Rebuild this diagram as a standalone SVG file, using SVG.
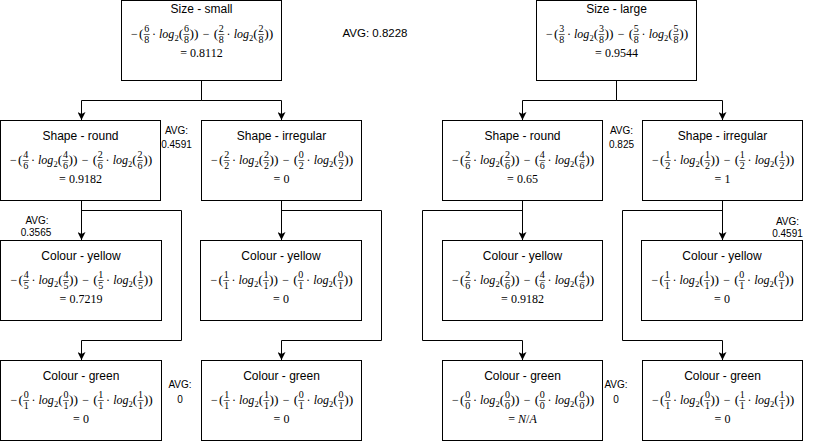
<svg xmlns="http://www.w3.org/2000/svg" width="813" height="442" viewBox="0 0 813 442">
<defs>
<style>
.bx{fill:#fff;stroke:#000;stroke-width:1}
.t{font-family:"Liberation Sans",Arial,sans-serif;font-size:12px;text-anchor:middle;fill:#000}
.m{font-family:"Liberation Serif","Times New Roman",serif;font-size:12px;text-anchor:middle;fill:#000}
.p{font-size:13.5px}
.f{font-family:"Liberation Serif","Times New Roman",serif;font-size:10px;text-anchor:middle;fill:#000}
.it{font-style:italic}
.sb{font-size:8.5px}
.bar{stroke:#000;stroke-width:0.6;fill:none}
.avg{font-family:"Liberation Sans",Arial,sans-serif;font-size:10px;text-anchor:middle;fill:#000}
.avgt{font-family:"Liberation Sans",Arial,sans-serif;font-size:11.5px;fill:#000}
.c{fill:none;stroke:#000;stroke-width:1}
</style>
<marker id="ah" viewBox="0 0 8 8" refX="8" refY="4" markerWidth="8" markerHeight="8" markerUnits="userSpaceOnUse" orient="auto">
<path d="M0,0 L8,4 L0,8 L2,4 Z" fill="#000"/>
</marker>
</defs>
<rect width="813" height="442" fill="#fff"/>

<g id="connectors">
<path class="c" marker-end="url(#ah)" d="M201.5,80 V100.5 H81.5 V120"/>
<path class="c" marker-end="url(#ah)" d="M201.5,80 V100.5 H281.5 V120"/>
<path class="c" marker-end="url(#ah)" d="M81.5,200 V240"/>
<path class="c" marker-end="url(#ah)" d="M81.5,200 V210.5 H181.5 V340.5 H81.5 V360"/>
<path class="c" marker-end="url(#ah)" d="M281.5,200 V240"/>
<path class="c" marker-end="url(#ah)" d="M281.5,200 V210.5 H381.5 V340.5 H281.5 V360"/>
<path class="c" marker-end="url(#ah)" d="M616.5,80 V100.5 H522.5 V120"/>
<path class="c" marker-end="url(#ah)" d="M616.5,80 V100.5 H722.5 V120"/>
<path class="c" marker-end="url(#ah)" d="M522.5,200 V240"/>
<path class="c" marker-end="url(#ah)" d="M522.5,200 V210.5 H422.5 V340.5 H522.5 V360"/>
<path class="c" marker-end="url(#ah)" d="M722.5,200 V240"/>
<path class="c" marker-end="url(#ah)" d="M722.5,200 V210.5 H622.5 V340.5 H722.5 V360"/>
</g>

<g id="size-small">
<rect class="bx" x="121.5" y="0.5" width="160" height="80"/>
<text class="t" x="201.5" y="12.5">Size - small</text>
<g transform="translate(129.5,34.5)">
<text class="m"><tspan x="4.8" y="3">−</tspan><tspan class="p" x="11.7" y="3.5">(</tspan><tspan x="24.5" y="3">·</tspan><tspan class="it" x="37.2" y="3">log</tspan><tspan class="sb" x="47" y="6">2</tspan><tspan class="p" x="51.4" y="3.5">(</tspan><tspan class="p" x="64.5" y="3.5">))</tspan><tspan x="76.7" y="3">−</tspan><tspan class="p" x="86.4" y="3.5">(</tspan><tspan x="99.1" y="3">·</tspan><tspan class="it" x="111.9" y="3">log</tspan><tspan class="sb" x="121.7" y="6">2</tspan><tspan class="p" x="126.1" y="3.5">(</tspan><tspan class="p" x="139.2" y="3.5">))</tspan></text>
<text class="f"><tspan x="17.2" y="-2.2">6</tspan><tspan x="17.2" y="8.3">8</tspan><tspan x="56.9" y="-2.2">6</tspan><tspan x="56.9" y="8.3">8</tspan><tspan x="91.8" y="-2.2">2</tspan><tspan x="91.8" y="8.3">8</tspan><tspan x="131.6" y="-2.2">2</tspan><tspan x="131.6" y="8.3">8</tspan></text>
<path class="bar" d="M14.2,0H20.2M53.9,0H59.9M88.8,0H94.8M128.6,0H134.6"/>
</g>
<text class="m" x="201.5" y="56.5">= 0.8112</text>
</g>

<g id="size-large">
<rect class="bx" x="536.5" y="0.5" width="160" height="80"/>
<text class="t" x="616.5" y="12.5">Size - large</text>
<g transform="translate(544.5,34.5)">
<text class="m"><tspan x="4.8" y="3">−</tspan><tspan class="p" x="11.7" y="3.5">(</tspan><tspan x="24.5" y="3">·</tspan><tspan class="it" x="37.2" y="3">log</tspan><tspan class="sb" x="47" y="6">2</tspan><tspan class="p" x="51.4" y="3.5">(</tspan><tspan class="p" x="64.5" y="3.5">))</tspan><tspan x="76.7" y="3">−</tspan><tspan class="p" x="86.4" y="3.5">(</tspan><tspan x="99.1" y="3">·</tspan><tspan class="it" x="111.9" y="3">log</tspan><tspan class="sb" x="121.7" y="6">2</tspan><tspan class="p" x="126.1" y="3.5">(</tspan><tspan class="p" x="139.2" y="3.5">))</tspan></text>
<text class="f"><tspan x="17.2" y="-2.2">3</tspan><tspan x="17.2" y="8.3">8</tspan><tspan x="56.9" y="-2.2">3</tspan><tspan x="56.9" y="8.3">8</tspan><tspan x="91.8" y="-2.2">5</tspan><tspan x="91.8" y="8.3">8</tspan><tspan x="131.6" y="-2.2">5</tspan><tspan x="131.6" y="8.3">8</tspan></text>
<path class="bar" d="M14.2,0H20.2M53.9,0H59.9M88.8,0H94.8M128.6,0H134.6"/>
</g>
<text class="m" x="616.5" y="56.5">= 0.9544</text>
</g>

<g id="shape-round-left">
<rect class="bx" x="0.5" y="120.5" width="160" height="80"/>
<text class="t" x="80.5" y="139.5">Shape - round</text>
<g transform="translate(8.5,160.5)">
<text class="m"><tspan x="4.8" y="3">−</tspan><tspan class="p" x="11.7" y="3.5">(</tspan><tspan x="24.5" y="3">·</tspan><tspan class="it" x="37.2" y="3">log</tspan><tspan class="sb" x="47" y="6">2</tspan><tspan class="p" x="51.4" y="3.5">(</tspan><tspan class="p" x="64.5" y="3.5">))</tspan><tspan x="76.7" y="3">−</tspan><tspan class="p" x="86.4" y="3.5">(</tspan><tspan x="99.1" y="3">·</tspan><tspan class="it" x="111.9" y="3">log</tspan><tspan class="sb" x="121.7" y="6">2</tspan><tspan class="p" x="126.1" y="3.5">(</tspan><tspan class="p" x="139.2" y="3.5">))</tspan></text>
<text class="f"><tspan x="17.2" y="-2.2">4</tspan><tspan x="17.2" y="8.3">6</tspan><tspan x="56.9" y="-2.2">4</tspan><tspan x="56.9" y="8.3">6</tspan><tspan x="91.8" y="-2.2">2</tspan><tspan x="91.8" y="8.3">6</tspan><tspan x="131.6" y="-2.2">2</tspan><tspan x="131.6" y="8.3">6</tspan></text>
<path class="bar" d="M14.2,0H20.2M53.9,0H59.9M88.8,0H94.8M128.6,0H134.6"/>
</g>
<text class="m" x="80.5" y="183">= 0.9182</text>
</g>

<g id="shape-irregular-left">
<rect class="bx" x="201.5" y="120.5" width="160" height="80"/>
<text class="t" x="281.5" y="139.5">Shape - irregular</text>
<g transform="translate(209.5,160.5)">
<text class="m"><tspan x="4.8" y="3">−</tspan><tspan class="p" x="11.7" y="3.5">(</tspan><tspan x="24.5" y="3">·</tspan><tspan class="it" x="37.2" y="3">log</tspan><tspan class="sb" x="47" y="6">2</tspan><tspan class="p" x="51.4" y="3.5">(</tspan><tspan class="p" x="64.5" y="3.5">))</tspan><tspan x="76.7" y="3">−</tspan><tspan class="p" x="86.4" y="3.5">(</tspan><tspan x="99.1" y="3">·</tspan><tspan class="it" x="111.9" y="3">log</tspan><tspan class="sb" x="121.7" y="6">2</tspan><tspan class="p" x="126.1" y="3.5">(</tspan><tspan class="p" x="139.2" y="3.5">))</tspan></text>
<text class="f"><tspan x="17.2" y="-2.2">2</tspan><tspan x="17.2" y="8.3">2</tspan><tspan x="56.9" y="-2.2">2</tspan><tspan x="56.9" y="8.3">2</tspan><tspan x="91.8" y="-2.2">0</tspan><tspan x="91.8" y="8.3">2</tspan><tspan x="131.6" y="-2.2">0</tspan><tspan x="131.6" y="8.3">2</tspan></text>
<path class="bar" d="M14.2,0H20.2M53.9,0H59.9M88.8,0H94.8M128.6,0H134.6"/>
</g>
<text class="m" x="281.5" y="183">= 0</text>
</g>

<g id="colour-yellow-left">
<rect class="bx" x="0.5" y="240.5" width="161" height="80"/>
<text class="t" x="81" y="259.5">Colour - yellow</text>
<g transform="translate(9,280.5)">
<text class="m"><tspan x="4.8" y="3">−</tspan><tspan class="p" x="11.7" y="3.5">(</tspan><tspan x="24.5" y="3">·</tspan><tspan class="it" x="37.2" y="3">log</tspan><tspan class="sb" x="47" y="6">2</tspan><tspan class="p" x="51.4" y="3.5">(</tspan><tspan class="p" x="64.5" y="3.5">))</tspan><tspan x="76.7" y="3">−</tspan><tspan class="p" x="86.4" y="3.5">(</tspan><tspan x="99.1" y="3">·</tspan><tspan class="it" x="111.9" y="3">log</tspan><tspan class="sb" x="121.7" y="6">2</tspan><tspan class="p" x="126.1" y="3.5">(</tspan><tspan class="p" x="139.2" y="3.5">))</tspan></text>
<text class="f"><tspan x="17.2" y="-2.2">4</tspan><tspan x="17.2" y="8.3">5</tspan><tspan x="56.9" y="-2.2">4</tspan><tspan x="56.9" y="8.3">5</tspan><tspan x="91.8" y="-2.2">1</tspan><tspan x="91.8" y="8.3">5</tspan><tspan x="131.6" y="-2.2">1</tspan><tspan x="131.6" y="8.3">5</tspan></text>
<path class="bar" d="M14.2,0H20.2M53.9,0H59.9M88.8,0H94.8M128.6,0H134.6"/>
</g>
<text class="m" x="81" y="303">= 0.7219</text>
</g>

<g id="colour-yellow-left-2">
<rect class="bx" x="200.5" y="240.5" width="161" height="80"/>
<text class="t" x="281" y="259.5">Colour - yellow</text>
<g transform="translate(209,280.5)">
<text class="m"><tspan x="4.8" y="3">−</tspan><tspan class="p" x="11.7" y="3.5">(</tspan><tspan x="24.5" y="3">·</tspan><tspan class="it" x="37.2" y="3">log</tspan><tspan class="sb" x="47" y="6">2</tspan><tspan class="p" x="51.4" y="3.5">(</tspan><tspan class="p" x="64.5" y="3.5">))</tspan><tspan x="76.7" y="3">−</tspan><tspan class="p" x="86.4" y="3.5">(</tspan><tspan x="99.1" y="3">·</tspan><tspan class="it" x="111.9" y="3">log</tspan><tspan class="sb" x="121.7" y="6">2</tspan><tspan class="p" x="126.1" y="3.5">(</tspan><tspan class="p" x="139.2" y="3.5">))</tspan></text>
<text class="f"><tspan x="17.2" y="-2.2">1</tspan><tspan x="17.2" y="8.3">1</tspan><tspan x="56.9" y="-2.2">1</tspan><tspan x="56.9" y="8.3">1</tspan><tspan x="91.8" y="-2.2">0</tspan><tspan x="91.8" y="8.3">1</tspan><tspan x="131.6" y="-2.2">0</tspan><tspan x="131.6" y="8.3">1</tspan></text>
<path class="bar" d="M14.2,0H20.2M53.9,0H59.9M88.8,0H94.8M128.6,0H134.6"/>
</g>
<text class="m" x="281" y="303">= 0</text>
</g>

<g id="colour-green-left">
<rect class="bx" x="0.5" y="360.5" width="161" height="80"/>
<text class="t" x="81" y="379.5">Colour - green</text>
<g transform="translate(9,400.5)">
<text class="m"><tspan x="4.8" y="3">−</tspan><tspan class="p" x="11.7" y="3.5">(</tspan><tspan x="24.5" y="3">·</tspan><tspan class="it" x="37.2" y="3">log</tspan><tspan class="sb" x="47" y="6">2</tspan><tspan class="p" x="51.4" y="3.5">(</tspan><tspan class="p" x="64.5" y="3.5">))</tspan><tspan x="76.7" y="3">−</tspan><tspan class="p" x="86.4" y="3.5">(</tspan><tspan x="99.1" y="3">·</tspan><tspan class="it" x="111.9" y="3">log</tspan><tspan class="sb" x="121.7" y="6">2</tspan><tspan class="p" x="126.1" y="3.5">(</tspan><tspan class="p" x="139.2" y="3.5">))</tspan></text>
<text class="f"><tspan x="17.2" y="-2.2">0</tspan><tspan x="17.2" y="8.3">1</tspan><tspan x="56.9" y="-2.2">0</tspan><tspan x="56.9" y="8.3">1</tspan><tspan x="91.8" y="-2.2">1</tspan><tspan x="91.8" y="8.3">1</tspan><tspan x="131.6" y="-2.2">1</tspan><tspan x="131.6" y="8.3">1</tspan></text>
<path class="bar" d="M14.2,0H20.2M53.9,0H59.9M88.8,0H94.8M128.6,0H134.6"/>
</g>
<text class="m" x="81" y="423">= 0</text>
</g>

<g id="colour-green-left-2">
<rect class="bx" x="201.5" y="360.5" width="160" height="80"/>
<text class="t" x="281.5" y="379.5">Colour - green</text>
<g transform="translate(209.5,400.5)">
<text class="m"><tspan x="4.8" y="3">−</tspan><tspan class="p" x="11.7" y="3.5">(</tspan><tspan x="24.5" y="3">·</tspan><tspan class="it" x="37.2" y="3">log</tspan><tspan class="sb" x="47" y="6">2</tspan><tspan class="p" x="51.4" y="3.5">(</tspan><tspan class="p" x="64.5" y="3.5">))</tspan><tspan x="76.7" y="3">−</tspan><tspan class="p" x="86.4" y="3.5">(</tspan><tspan x="99.1" y="3">·</tspan><tspan class="it" x="111.9" y="3">log</tspan><tspan class="sb" x="121.7" y="6">2</tspan><tspan class="p" x="126.1" y="3.5">(</tspan><tspan class="p" x="139.2" y="3.5">))</tspan></text>
<text class="f"><tspan x="17.2" y="-2.2">1</tspan><tspan x="17.2" y="8.3">1</tspan><tspan x="56.9" y="-2.2">1</tspan><tspan x="56.9" y="8.3">1</tspan><tspan x="91.8" y="-2.2">0</tspan><tspan x="91.8" y="8.3">1</tspan><tspan x="131.6" y="-2.2">0</tspan><tspan x="131.6" y="8.3">1</tspan></text>
<path class="bar" d="M14.2,0H20.2M53.9,0H59.9M88.8,0H94.8M128.6,0H134.6"/>
</g>
<text class="m" x="281.5" y="423">= 0</text>
</g>

<g id="shape-round-right">
<rect class="bx" x="442.5" y="120.5" width="160" height="80"/>
<text class="t" x="522.5" y="139.5">Shape - round</text>
<g transform="translate(450.5,160.5)">
<text class="m"><tspan x="4.8" y="3">−</tspan><tspan class="p" x="11.7" y="3.5">(</tspan><tspan x="24.5" y="3">·</tspan><tspan class="it" x="37.2" y="3">log</tspan><tspan class="sb" x="47" y="6">2</tspan><tspan class="p" x="51.4" y="3.5">(</tspan><tspan class="p" x="64.5" y="3.5">))</tspan><tspan x="76.7" y="3">−</tspan><tspan class="p" x="86.4" y="3.5">(</tspan><tspan x="99.1" y="3">·</tspan><tspan class="it" x="111.9" y="3">log</tspan><tspan class="sb" x="121.7" y="6">2</tspan><tspan class="p" x="126.1" y="3.5">(</tspan><tspan class="p" x="139.2" y="3.5">))</tspan></text>
<text class="f"><tspan x="17.2" y="-2.2">2</tspan><tspan x="17.2" y="8.3">6</tspan><tspan x="56.9" y="-2.2">2</tspan><tspan x="56.9" y="8.3">6</tspan><tspan x="91.8" y="-2.2">4</tspan><tspan x="91.8" y="8.3">6</tspan><tspan x="131.6" y="-2.2">4</tspan><tspan x="131.6" y="8.3">6</tspan></text>
<path class="bar" d="M14.2,0H20.2M53.9,0H59.9M88.8,0H94.8M128.6,0H134.6"/>
</g>
<text class="m" x="522.5" y="183">= 0.65</text>
</g>

<g id="shape-irregular-right">
<rect class="bx" x="642.5" y="120.5" width="160" height="80"/>
<text class="t" x="722.5" y="139.5">Shape - irregular</text>
<g transform="translate(650.5,160.5)">
<text class="m"><tspan x="4.8" y="3">−</tspan><tspan class="p" x="11.7" y="3.5">(</tspan><tspan x="24.5" y="3">·</tspan><tspan class="it" x="37.2" y="3">log</tspan><tspan class="sb" x="47" y="6">2</tspan><tspan class="p" x="51.4" y="3.5">(</tspan><tspan class="p" x="64.5" y="3.5">))</tspan><tspan x="76.7" y="3">−</tspan><tspan class="p" x="86.4" y="3.5">(</tspan><tspan x="99.1" y="3">·</tspan><tspan class="it" x="111.9" y="3">log</tspan><tspan class="sb" x="121.7" y="6">2</tspan><tspan class="p" x="126.1" y="3.5">(</tspan><tspan class="p" x="139.2" y="3.5">))</tspan></text>
<text class="f"><tspan x="17.2" y="-2.2">1</tspan><tspan x="17.2" y="8.3">2</tspan><tspan x="56.9" y="-2.2">1</tspan><tspan x="56.9" y="8.3">2</tspan><tspan x="91.8" y="-2.2">1</tspan><tspan x="91.8" y="8.3">2</tspan><tspan x="131.6" y="-2.2">1</tspan><tspan x="131.6" y="8.3">2</tspan></text>
<path class="bar" d="M14.2,0H20.2M53.9,0H59.9M88.8,0H94.8M128.6,0H134.6"/>
</g>
<text class="m" x="722.5" y="183">= 1</text>
</g>

<g id="colour-yellow-right">
<rect class="bx" x="442.5" y="240.5" width="160" height="80"/>
<text class="t" x="522.5" y="259.5">Colour - yellow</text>
<g transform="translate(450.5,280.5)">
<text class="m"><tspan x="4.8" y="3">−</tspan><tspan class="p" x="11.7" y="3.5">(</tspan><tspan x="24.5" y="3">·</tspan><tspan class="it" x="37.2" y="3">log</tspan><tspan class="sb" x="47" y="6">2</tspan><tspan class="p" x="51.4" y="3.5">(</tspan><tspan class="p" x="64.5" y="3.5">))</tspan><tspan x="76.7" y="3">−</tspan><tspan class="p" x="86.4" y="3.5">(</tspan><tspan x="99.1" y="3">·</tspan><tspan class="it" x="111.9" y="3">log</tspan><tspan class="sb" x="121.7" y="6">2</tspan><tspan class="p" x="126.1" y="3.5">(</tspan><tspan class="p" x="139.2" y="3.5">))</tspan></text>
<text class="f"><tspan x="17.2" y="-2.2">2</tspan><tspan x="17.2" y="8.3">6</tspan><tspan x="56.9" y="-2.2">2</tspan><tspan x="56.9" y="8.3">6</tspan><tspan x="91.8" y="-2.2">4</tspan><tspan x="91.8" y="8.3">6</tspan><tspan x="131.6" y="-2.2">4</tspan><tspan x="131.6" y="8.3">6</tspan></text>
<path class="bar" d="M14.2,0H20.2M53.9,0H59.9M88.8,0H94.8M128.6,0H134.6"/>
</g>
<text class="m" x="522.5" y="303">= 0.9182</text>
</g>

<g id="colour-yellow-right-2">
<rect class="bx" x="641.5" y="240.5" width="161" height="80"/>
<text class="t" x="722" y="259.5">Colour - yellow</text>
<g transform="translate(650,280.5)">
<text class="m"><tspan x="4.8" y="3">−</tspan><tspan class="p" x="11.7" y="3.5">(</tspan><tspan x="24.5" y="3">·</tspan><tspan class="it" x="37.2" y="3">log</tspan><tspan class="sb" x="47" y="6">2</tspan><tspan class="p" x="51.4" y="3.5">(</tspan><tspan class="p" x="64.5" y="3.5">))</tspan><tspan x="76.7" y="3">−</tspan><tspan class="p" x="86.4" y="3.5">(</tspan><tspan x="99.1" y="3">·</tspan><tspan class="it" x="111.9" y="3">log</tspan><tspan class="sb" x="121.7" y="6">2</tspan><tspan class="p" x="126.1" y="3.5">(</tspan><tspan class="p" x="139.2" y="3.5">))</tspan></text>
<text class="f"><tspan x="17.2" y="-2.2">1</tspan><tspan x="17.2" y="8.3">1</tspan><tspan x="56.9" y="-2.2">1</tspan><tspan x="56.9" y="8.3">1</tspan><tspan x="91.8" y="-2.2">0</tspan><tspan x="91.8" y="8.3">1</tspan><tspan x="131.6" y="-2.2">0</tspan><tspan x="131.6" y="8.3">1</tspan></text>
<path class="bar" d="M14.2,0H20.2M53.9,0H59.9M88.8,0H94.8M128.6,0H134.6"/>
</g>
<text class="m" x="722" y="303">= 0</text>
</g>

<g id="colour-green-right">
<rect class="bx" x="442.5" y="360.5" width="160" height="80"/>
<text class="t" x="522.5" y="379.5">Colour - green</text>
<g transform="translate(450.5,400.5)">
<text class="m"><tspan x="4.8" y="3">−</tspan><tspan class="p" x="11.7" y="3.5">(</tspan><tspan x="24.5" y="3">·</tspan><tspan class="it" x="37.2" y="3">log</tspan><tspan class="sb" x="47" y="6">2</tspan><tspan class="p" x="51.4" y="3.5">(</tspan><tspan class="p" x="64.5" y="3.5">))</tspan><tspan x="76.7" y="3">−</tspan><tspan class="p" x="86.4" y="3.5">(</tspan><tspan x="99.1" y="3">·</tspan><tspan class="it" x="111.9" y="3">log</tspan><tspan class="sb" x="121.7" y="6">2</tspan><tspan class="p" x="126.1" y="3.5">(</tspan><tspan class="p" x="139.2" y="3.5">))</tspan></text>
<text class="f"><tspan x="17.2" y="-2.2">0</tspan><tspan x="17.2" y="8.3">0</tspan><tspan x="56.9" y="-2.2">0</tspan><tspan x="56.9" y="8.3">0</tspan><tspan x="91.8" y="-2.2">0</tspan><tspan x="91.8" y="8.3">0</tspan><tspan x="131.6" y="-2.2">0</tspan><tspan x="131.6" y="8.3">0</tspan></text>
<path class="bar" d="M14.2,0H20.2M53.9,0H59.9M88.8,0H94.8M128.6,0H134.6"/>
</g>
<text class="m" x="522.5" y="423">= <tspan class="it">N</tspan>/<tspan class="it">A</tspan></text>
</g>

<g id="colour-green-right-2">
<rect class="bx" x="642.5" y="360.5" width="160" height="80"/>
<text class="t" x="722.5" y="379.5">Colour - green</text>
<g transform="translate(650.5,400.5)">
<text class="m"><tspan x="4.8" y="3">−</tspan><tspan class="p" x="11.7" y="3.5">(</tspan><tspan x="24.5" y="3">·</tspan><tspan class="it" x="37.2" y="3">log</tspan><tspan class="sb" x="47" y="6">2</tspan><tspan class="p" x="51.4" y="3.5">(</tspan><tspan class="p" x="64.5" y="3.5">))</tspan><tspan x="76.7" y="3">−</tspan><tspan class="p" x="86.4" y="3.5">(</tspan><tspan x="99.1" y="3">·</tspan><tspan class="it" x="111.9" y="3">log</tspan><tspan class="sb" x="121.7" y="6">2</tspan><tspan class="p" x="126.1" y="3.5">(</tspan><tspan class="p" x="139.2" y="3.5">))</tspan></text>
<text class="f"><tspan x="17.2" y="-2.2">0</tspan><tspan x="17.2" y="8.3">1</tspan><tspan x="56.9" y="-2.2">0</tspan><tspan x="56.9" y="8.3">1</tspan><tspan x="91.8" y="-2.2">1</tspan><tspan x="91.8" y="8.3">1</tspan><tspan x="131.6" y="-2.2">1</tspan><tspan x="131.6" y="8.3">1</tspan></text>
<path class="bar" d="M14.2,0H20.2M53.9,0H59.9M88.8,0H94.8M128.6,0H134.6"/>
</g>
<text class="m" x="722.5" y="423">= 0</text>
</g>

<g id="avg-labels">
<text class="avgt" x="342.5" y="37">AVG: 0.8228</text>
<text class="avg" x="176.5" y="133.5">AVG:</text>
<text class="avg" x="176.5" y="147.5">0.4591</text>
<text class="avg" x="621.5" y="133.5">AVG:</text>
<text class="avg" x="621.5" y="147.5">0.825</text>
<text class="avg" x="37" y="223.5">AVG:</text>
<text class="avg" x="36" y="236">0.3565</text>
<text class="avg" x="787.5" y="224.5">AVG:</text>
<text class="avg" x="787.5" y="237">0.4591</text>
<text class="avg" x="180" y="387.5">AVG:</text>
<text class="avg" x="180" y="403">0</text>
<text class="avg" x="616" y="387.5">AVG:</text>
<text class="avg" x="616" y="403">0</text>
</g>
</svg>
